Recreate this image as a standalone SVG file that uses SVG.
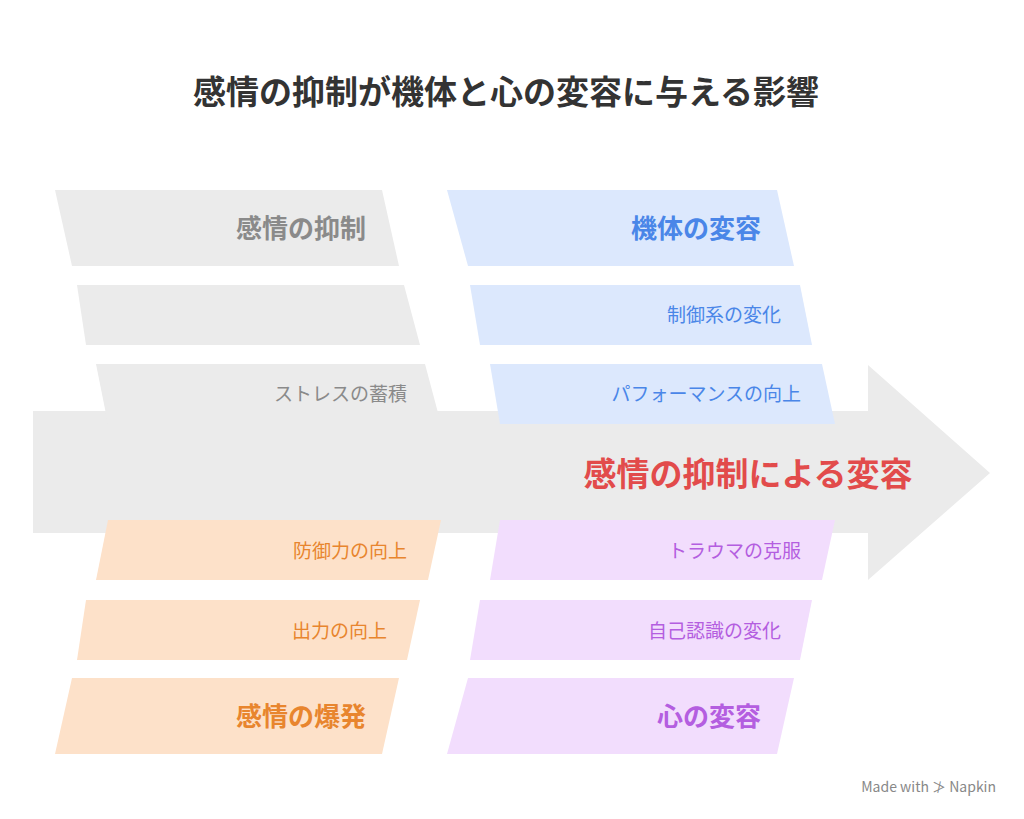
<svg xmlns="http://www.w3.org/2000/svg" width="1024" height="819" viewBox="0 0 1024 819">
<style>
text{font-family:"Noto Sans CJK JP","Noto Sans",sans-serif}
.g{fill:#ebebeb}.b{fill:#dce8fd}.o{fill:#fde1c9}.p{fill:#f2ddfd}
.h{font-size:26px;font-weight:bold;text-anchor:end}
.s{font-size:19px;text-anchor:end}
</style>
<rect width="1024" height="819" fill="#fff"/>
<text x="506" y="104" text-anchor="middle" font-size="33" font-weight="bold" fill="#333">感情の抑制が機体と心の変容に与える影響</text>
<g id="connectors">
<polygon points="33,411 868,411 868,365 990,473 868,580 868,533 33,533" fill="#ebebeb"/>
</g>
<g id="n1"><polygon class="g" points="55,190 382,190 399,266 72,266"/><text class="h" x="366" y="238" fill="#8a8a8a">感情の抑制</text></g>
<g id="n2"><polygon class="g" points="77,285 404,285 420,345 86,345"/></g>
<g id="n3"><polygon class="g" points="96,364 425,364 441,424 108,424"/><text class="s" x="407" y="401" fill="#8a8a8a">ストレスの蓄積</text></g>
<g id="n4"><polygon class="b" points="447,190 777,190 794,266 468,266"/><text class="h" x="761" y="238" fill="#4a86e8">機体の変容</text></g>
<g id="n5"><polygon class="b" points="470,285 800,285 812,345 480,345"/><text class="s" x="781" y="322" fill="#4a86e8">制御系の変化</text></g>
<g id="n6"><polygon class="b" points="490,364 822,364 835,424 500,424"/><text class="s" x="801" y="401" fill="#4a86e8">パフォーマンスの向上</text></g>
<g id="center"><text x="748" y="486" text-anchor="middle" font-size="33" font-weight="bold" fill="#e24b4b">感情の抑制による変容</text></g>
<g id="n7"><polygon class="o" points="108,520 441,520 428,580 96,580"/><text class="s" x="407" y="558" fill="#e8852e">防御力の向上</text></g>
<g id="n8"><polygon class="o" points="86,600 420,600 407,660 77,660"/><text class="s" x="387" y="638" fill="#e8852e">出力の向上</text></g>
<g id="n9"><polygon class="o" points="72,678 399,678 382,754 55,754"/><text class="h" x="366" y="726" fill="#e8852e">感情の爆発</text></g>
<g id="n10"><polygon class="p" points="500,520 835,520 822,580 490,580"/><text class="s" x="801" y="558" fill="#b45ee0">トラウマの克服</text></g>
<g id="n11"><polygon class="p" points="480,600 812,600 800,660 470,660"/><text class="s" x="781" y="638" fill="#b45ee0">自己認識の変化</text></g>
<g id="n12"><polygon class="p" points="468,678 794,678 777,754 447,754"/><text class="h" x="761" y="726" fill="#b45ee0">心の変容</text></g>
<text x="996" y="792" text-anchor="end" font-size="14" fill="#888" font-family="Inter,sans-serif">Made with ≯ Napkin</text>
</svg>
